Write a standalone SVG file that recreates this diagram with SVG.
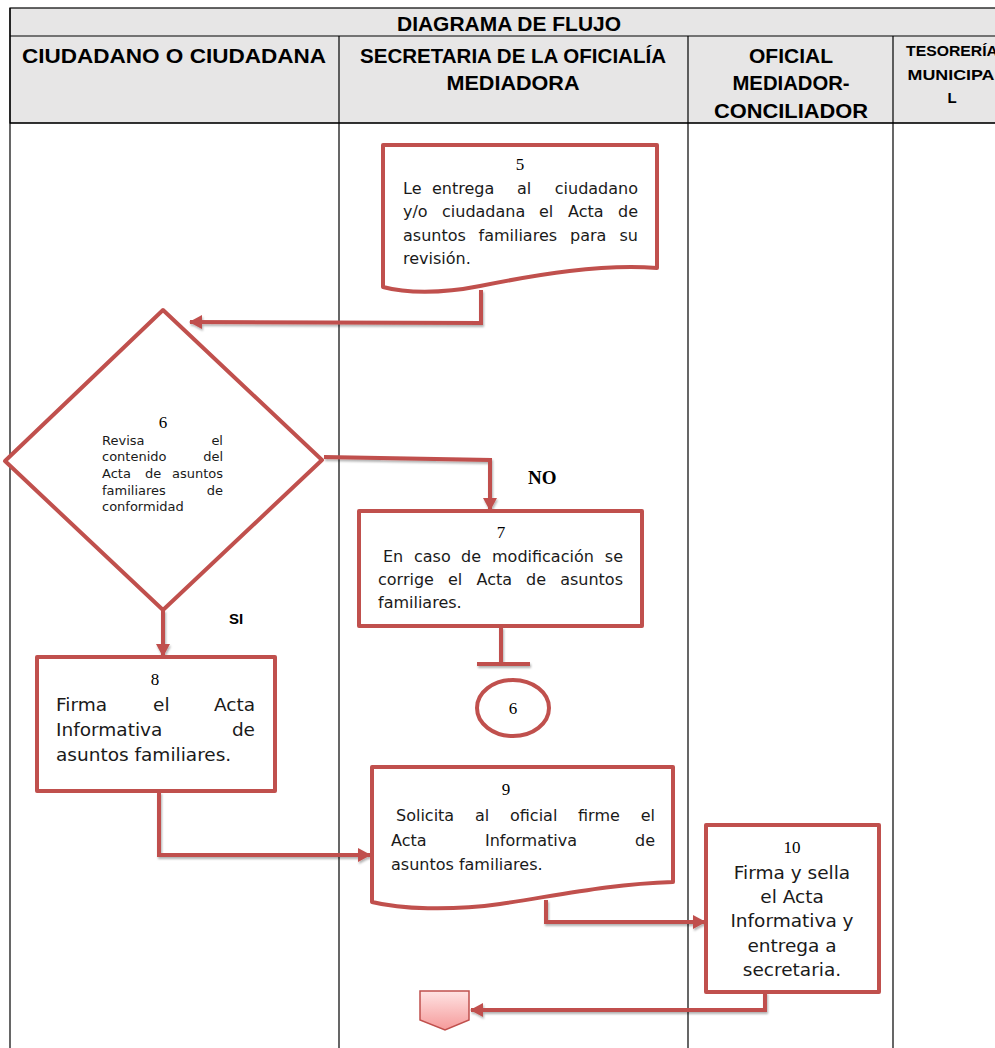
<svg xmlns="http://www.w3.org/2000/svg" width="995" height="1048" viewBox="0 0 995 1048">
<style>
.hdr{font-family:"Liberation Sans",Arial,sans-serif;font-weight:bold;fill:#000;text-anchor:middle}
.node{fill:#fff;stroke:#c0504d;stroke-width:4;stroke-linejoin:round}
.conn{fill:none;stroke:#c0504d;stroke-width:4;stroke-linejoin:miter}
.num{font-family:"Liberation Serif","Times New Roman",serif;font-size:17px;fill:#000;text-anchor:middle}
.txt{font-family:"DejaVu Sans",sans-serif;font-size:16px;fill:#1a1a1a}
.big{font-family:"DejaVu Sans",sans-serif;font-size:18.5px;fill:#1a1a1a}
.small{font-family:"DejaVu Sans",sans-serif;font-size:13px;fill:#1a1a1a}
.e{text-anchor:end}
.m{text-anchor:middle}
.lane{stroke:#000;stroke-width:1.2}
</style>
<defs>
<marker id="arr" markerUnits="userSpaceOnUse" markerWidth="14" markerHeight="14" refX="12" refY="7" orient="auto">
<path d="M0,0 L13,7 L0,14 Z" fill="#c0504d"/>
</marker>
<linearGradient id="pink" x1="0" y1="0" x2="0" y2="1">
<stop offset="0" stop-color="#ffe3e3"/>
<stop offset="1" stop-color="#f59a9a"/>
</linearGradient>
<filter id="sh" x="-10%" y="-10%" width="130%" height="130%">
<feDropShadow dx="1" dy="2" stdDeviation="1.2" flood-color="#000" flood-opacity="0.3"/>
</filter>
</defs>
<rect width="995" height="1048" fill="#fff"/>
<g id="table">
<rect x="10" y="8" width="990" height="115" fill="#e7e6e6" stroke="#000" stroke-width="1.2"/>
<line class="lane" x1="10" y1="36" x2="995" y2="36"/>
<line class="lane" x1="10" y1="123" x2="995" y2="123"/>
<line class="lane" x1="10" y1="8" x2="10" y2="1048"/>
<line class="lane" x1="339" y1="36" x2="339" y2="1048"/>
<line class="lane" x1="688" y1="36" x2="688" y2="1048"/>
<line class="lane" x1="893" y1="36" x2="893" y2="1048"/>
<text class="hdr" x="509" y="31" font-size="20" textLength="224" lengthAdjust="spacingAndGlyphs">DIAGRAMA DE FLUJO</text>
<text class="hdr" x="174" y="63" font-size="20" textLength="304" lengthAdjust="spacingAndGlyphs">CIUDADANO O CIUDADANA</text>
<text class="hdr" x="513" y="63" font-size="20" textLength="306" lengthAdjust="spacingAndGlyphs">SECRETARIA DE LA OFICIALÍA</text>
<text class="hdr" x="513" y="90" font-size="20" textLength="133" lengthAdjust="spacingAndGlyphs">MEDIADORA</text>
<text class="hdr" x="791" y="63" font-size="20" textLength="84" lengthAdjust="spacingAndGlyphs">OFICIAL</text>
<text class="hdr" x="791" y="90" font-size="20" textLength="117" lengthAdjust="spacingAndGlyphs">MEDIADOR-</text>
<text class="hdr" x="791" y="118" font-size="20" textLength="154" lengthAdjust="spacingAndGlyphs">CONCILIADOR</text>
<text class="hdr" x="952" y="56" font-size="15" textLength="92" lengthAdjust="spacingAndGlyphs">TESORERÍA</text>
<text class="hdr" x="951" y="80" font-size="15" textLength="87" lengthAdjust="spacingAndGlyphs">MUNICIPA</text>
<text class="hdr" x="952" y="103" font-size="15">L</text>
</g>
<g id="connectors" filter="url(#sh)">
<polyline class="conn" points="481,290 481,323 190,322" marker-end="url(#arr)"/>
<polyline class="conn" points="324,457 490,460 490,510" marker-end="url(#arr)"/>
<polyline class="conn" points="501,627 501,663"/>
<line class="conn" x1="477" y1="664" x2="530" y2="664"/>
<polyline class="conn" points="163,610 163,656" marker-end="url(#arr)"/>
<polyline class="conn" points="159,792 159,855 370,855" marker-end="url(#arr)"/>
<polyline class="conn" points="546,900 546,922 705,922" marker-end="url(#arr)"/>
<polyline class="conn" points="765,992 765,1010 471,1010" marker-end="url(#arr)"/>
</g>
<g id="labels">
<text x="528" y="484" font-family="Liberation Serif,serif" font-weight="bold" font-size="19">NO</text>
<text x="229" y="624" font-family="Liberation Sans,Arial,sans-serif" font-weight="bold" font-size="15">SI</text>
</g>
<g id="n5">
<path class="node" d="M383,145 H657 V268 C600,264 540,274 480,286 C440,294 405,293 383,287 Z"/>
<text class="num" x="520" y="170">5</text>
<text class="txt" y="194"><tspan x="403">Le</tspan><tspan x="432">entrega</tspan><tspan x="517">al</tspan></text>
<text class="txt e" x="638" y="194">ciudadano</text>
<text class="txt" y="217"><tspan x="403">y/o</tspan><tspan x="442">ciudadana</tspan><tspan x="539">el</tspan><tspan x="568">Acta</tspan></text>
<text class="txt e" x="638" y="217">de</text>
<text class="txt" y="241"><tspan x="403">asuntos</tspan><tspan x="478.5">familiares</tspan><tspan x="570">para</tspan></text>
<text class="txt e" x="638" y="241">su</text>
<text class="txt" x="403" y="264">revisión.</text>
</g>
<g id="n6">
<path class="node" d="M163,310 L322,460 L163,610 L5,461 Z"/>
<text class="num" x="163" y="428">6</text>
<text class="small" x="102" y="445">Revisa</text><text class="small e" x="223" y="445">el</text>
<text class="small" x="102" y="461">contenido</text><text class="small e" x="223" y="461">del</text>
<text class="small" y="478"><tspan x="102">Acta</tspan><tspan x="145">de</tspan></text><text class="small e" x="223" y="478">asuntos</text>
<text class="small" x="102" y="495">familiares</text><text class="small e" x="223" y="495">de</text>
<text class="small" x="102" y="511">conformidad</text>
</g>
<g id="n7">
<rect class="node" x="359" y="511" width="283" height="115"/>
<text class="num" x="501" y="538">7</text>
<text class="txt" y="562"><tspan x="383">En</tspan><tspan x="414">caso</tspan><tspan x="461">de</tspan><tspan x="492">modificación</tspan></text>
<text class="txt e" x="623" y="562">se</text>
<text class="txt" y="585"><tspan x="378">corrige</tspan><tspan x="448">el</tspan><tspan x="476.5">Acta</tspan><tspan x="526">de</tspan></text>
<text class="txt e" x="623" y="585">asuntos</text>
<text class="txt" x="378" y="608">familiares.</text>
</g>
<g id="c6">
<ellipse class="node" cx="513" cy="708" rx="36" ry="28"/>
<text class="num" x="513" y="714">6</text>
</g>
<g id="n8">
<rect class="node" x="37" y="657" width="238" height="134"/>
<text class="num" x="155" y="685">8</text>
<text class="big" y="711"><tspan x="56">Firma</tspan><tspan x="153">el</tspan></text><text class="big e" x="255" y="711">Acta</text>
<text class="big" x="56" y="736">Informativa</text><text class="big e" x="255" y="736">de</text>
<text class="big" x="56" y="761">asuntos familiares.</text>
</g>
<g id="n9">
<path class="node" d="M372,767 H673 V882 C610,884 560,895 500,904 C450,911 400,909 372,902 Z"/>
<text class="num" x="506" y="795">9</text>
<text class="txt" y="821"><tspan x="396">Solicita</tspan><tspan x="475">al</tspan><tspan x="510">oficial</tspan><tspan x="578">firme</tspan></text>
<text class="txt e" x="655" y="821">el</text>
<text class="txt" y="846"><tspan x="391">Acta</tspan><tspan x="485">Informativa</tspan></text>
<text class="txt e" x="655" y="846">de</text>
<text class="txt" x="391" y="870">asuntos familiares.</text>
</g>
<g id="n10">
<rect class="node" x="706" y="825" width="173" height="167"/>
<text class="num" x="792" y="853">10</text>
<text class="big m" x="792" y="879">Firma y sella</text>
<text class="big m" x="792" y="903">el Acta</text>
<text class="big m" x="792" y="927">Informativa y</text>
<text class="big m" x="792" y="952">entrega a</text>
<text class="big m" x="792" y="976">secretaria.</text>
</g>
<g id="offpage">
<path d="M420,991 H469 V1020 L445,1030 L420,1020 Z" fill="url(#pink)" stroke="#c0504d" stroke-width="1.5"/>
</g>
</svg>
